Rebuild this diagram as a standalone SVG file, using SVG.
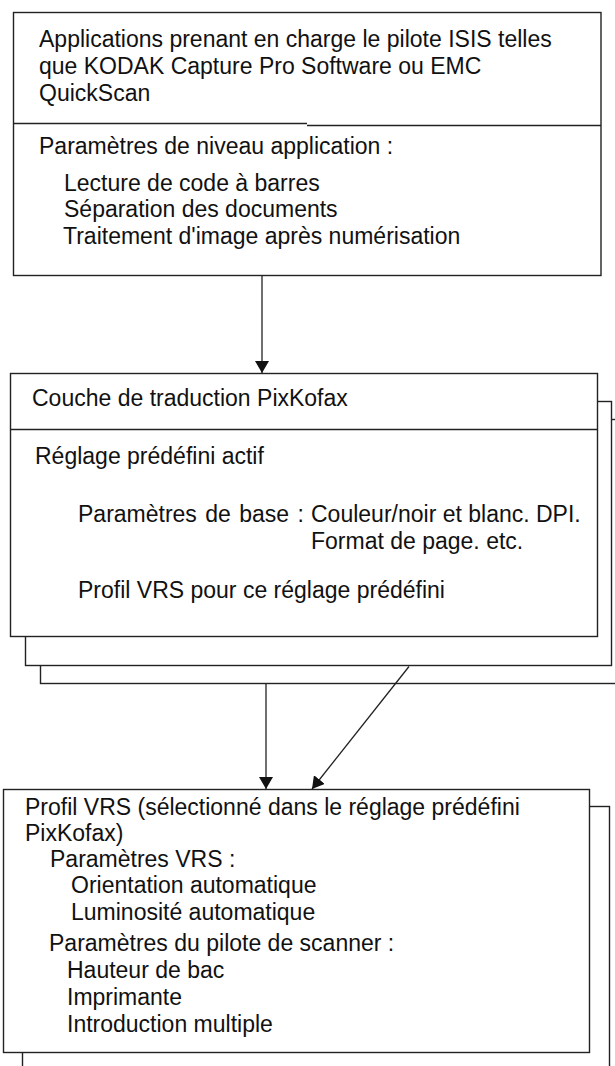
<svg xmlns="http://www.w3.org/2000/svg" width="615" height="1066" viewBox="0 0 615 1066">
<style>
.box{fill:#fff;stroke:#222;stroke-width:1.4}
.ln{fill:none;stroke:#222;stroke-width:1.4}
.t{font-family:"Liberation Sans",Arial,sans-serif;font-size:23px;fill:#111}
.c{fill:none;stroke:#222;stroke-width:1.3}
</style>
<defs>
<marker id="ah" markerUnits="userSpaceOnUse" viewBox="0 0 12 14" markerWidth="12" markerHeight="14" refX="12" refY="7" orient="auto">
<path d="M0,0 L12,7 L0,14 z" fill="#111"/>
</marker>
</defs>
<rect width="615" height="1066" fill="#fff"/>
<g id="app">
<rect class="box" x="13.5" y="12.5" width="587.5" height="263"/>
<path class="ln" d="M13.5,123.5 H307 M307,125.5 H601"/>
<text class="t" x="39" y="47">Applications prenant en charge le pilote ISIS telles</text>
<text class="t" x="39" y="74">que KODAK Capture Pro Software ou EMC</text>
<text class="t" x="39" y="101">QuickScan</text>
<text class="t" x="39" y="154">Paramètres de niveau application :</text>
<text class="t" x="64" y="191">Lecture de code à barres</text>
<text class="t" x="64" y="217">Séparation des documents</text>
<text class="t" x="63" y="244">Traitement d'image après numérisation</text>
</g>
<g id="pixkofax">
<rect class="box" x="40.5" y="419.5" width="600" height="264"/>
<rect class="box" x="25.5" y="401.5" width="586" height="264"/>
<rect class="box" x="10.5" y="373.5" width="587" height="263"/>
<line class="ln" x1="10.5" y1="429.5" x2="597.5" y2="429.5"/>
<text class="t" x="32" y="406">Couche de traduction PixKofax</text>
<text class="t" x="35" y="464">Réglage prédéfini actif</text>
<text class="t" x="78" y="522" word-spacing="2">Paramètres de base :</text>
<text class="t" x="311" y="522">Couleur/noir et blanc. DPI.</text>
<text class="t" x="311" y="549">Format de page. etc.</text>
<text class="t" x="78" y="598">Profil VRS pour ce réglage prédéfini</text>
</g>
<g id="vrs">
<rect class="box" x="22.5" y="806.5" width="587" height="280"/>
<rect class="box" x="3.5" y="789.5" width="586" height="263"/>
<text class="t" x="25" y="815">Profil VRS (sélectionné dans le réglage prédéfini</text>
<text class="t" x="25" y="841">PixKofax)</text>
<text class="t" x="50" y="867">Paramètres VRS :</text>
<text class="t" x="71" y="893">Orientation automatique</text>
<text class="t" x="71" y="920">Luminosité automatique</text>
<text class="t" x="49" y="951">Paramètres du pilote de scanner :</text>
<text class="t" x="67" y="978">Hauteur de bac</text>
<text class="t" x="67" y="1005">Imprimante</text>
<text class="t" x="67" y="1032">Introduction multiple</text>
</g>
<g id="connectors">
<line class="c" x1="262" y1="276" x2="262" y2="373" marker-end="url(#ah)"/>
<line class="c" x1="266" y1="684" x2="266" y2="789" marker-end="url(#ah)"/>
<line class="c" x1="409" y1="666.5" x2="312" y2="789" marker-end="url(#ah)"/>
</g>
</svg>
